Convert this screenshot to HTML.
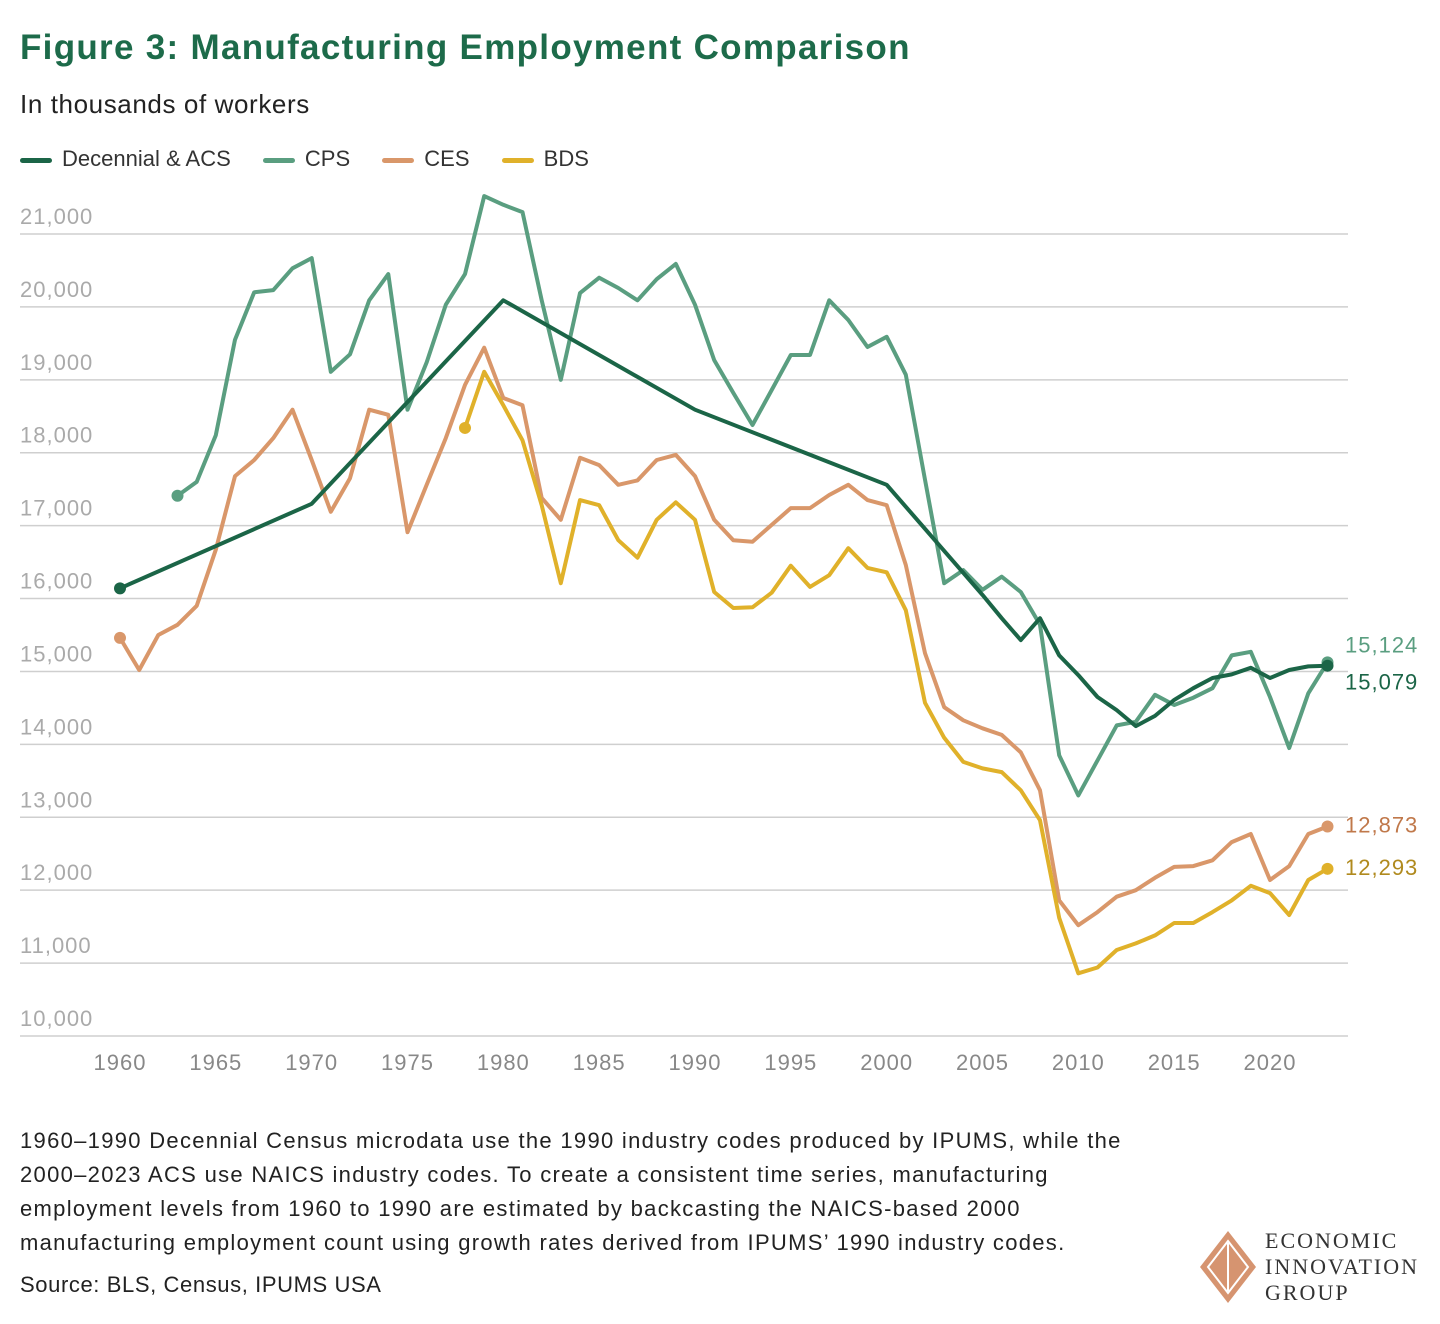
<!DOCTYPE html>
<html><head><meta charset="utf-8"><style>
body{margin:0;width:1440px;height:1324px;background:#fff;font-family:"Liberation Sans",sans-serif;position:relative;overflow:hidden}
.t{position:absolute;white-space:nowrap}
</style></head><body>
<div class="t" style="left:20px;top:28px;font-size:35px;font-weight:bold;color:#1d6b4a;letter-spacing:1.3px">Figure 3: Manufacturing Employment Comparison</div>
<div class="t" style="left:20px;top:89px;font-size:26px;color:#222;letter-spacing:0.6px">In thousands of workers</div>
<div class="t" style="left:20px;top:146px;font-size:22px;color:#333">
<span><span style="display:inline-block;width:32px;height:5px;background:#1b6547;border-radius:3px;vertical-align:middle;margin-right:10px"></span>Decennial &amp; ACS</span>
<span style="margin-left:26px"><span style="display:inline-block;width:32px;height:5px;background:#5a9e80;border-radius:3px;vertical-align:middle;margin-right:10px"></span>CPS</span>
<span style="margin-left:26px"><span style="display:inline-block;width:32px;height:5px;background:#d9976a;border-radius:3px;vertical-align:middle;margin-right:10px"></span>CES</span>
<span style="margin-left:26px"><span style="display:inline-block;width:32px;height:5px;background:#e0b12a;border-radius:3px;vertical-align:middle;margin-right:10px"></span>BDS</span>
</div>
<svg id="chart" width="1440" height="1100" style="position:absolute;left:0;top:0"></svg>
<div class="t" style="left:20px;top:1124px;font-size:22px;line-height:34px;color:#222;letter-spacing:1.3px">1960–1990 Decennial Census microdata use the 1990 industry codes produced by IPUMS, while the<br>2000–2023 ACS use NAICS industry codes. To create a consistent time series, manufacturing<br>employment levels from 1960 to 1990 are estimated by backcasting the NAICS-based 2000<br>manufacturing employment count using growth rates derived from IPUMS’ 1990 industry codes.</div>
<div class="t" style="left:20px;top:1272px;font-size:22px;color:#222;letter-spacing:0.6px">Source: BLS, Census, IPUMS USA</div>
<svg width="60" height="76" style="position:absolute;left:1198px;top:1229px">
<polygon points="30,2 58,38 30,74 2,38" fill="#d69470"/>
<polygon points="30,12 50,38 30,64 10,38" fill="none" stroke="#fff" stroke-width="2"/>
<line x1="30" y1="14" x2="30" y2="62" stroke="#fff" stroke-width="2"/>
</svg>
<div class="t" style="left:1265px;top:1228px;font-family:'Liberation Serif',serif;font-size:22px;line-height:26px;color:#333;letter-spacing:2px">ECONOMIC<br>INNOVATION<br>GROUP</div>
<script>
const yTicks=[10000,11000,12000,13000,14000,15000,16000,17000,18000,19000,20000,21000];
const xTicks=[1960,1965,1970,1975,1980,1985,1990,1995,2000,2005,2010,2015,2020];
const decYears=[1960,1970,1980,1990,2000,2005,2006,2007,2008,2009,2010,2011,2012,2013,2014,2015,2016,2017,2018,2019,2020,2021,2022,2023];
const decVals=[16140,17300,20090,18590,17560,16050,15730,15430,15730,15220,14950,14650,14470,14250,14390,14610,14770,14910,14960,15050,14910,15020,15070,15079];
const cpsStart=1963;
const cpsVals=[17410,17600,18240,19550,20200,20230,20530,20670,19110,19350,20090,20450,18590,19240,20030,20450,21520,21400,21300,20090,19000,20190,20400,20260,20090,20380,20590,20030,19270,18820,18380,18860,19340,19340,20090,19820,19450,19590,19070,17630,16210,16390,16120,16300,16090,15640,13850,13300,13780,14260,14310,14680,14540,14640,14770,15220,15270,14650,13950,14700,15124];
const cesStart=1960;
const cesVals=[15460,15020,15500,15640,15900,16670,17680,17900,18200,18590,17900,17190,17650,18590,18520,16910,17560,18200,18930,19440,18750,18650,17380,17080,17930,17830,17560,17620,17900,17970,17680,17080,16800,16780,17010,17240,17240,17420,17560,17350,17280,16460,15250,14510,14330,14220,14130,13890,13370,11860,11520,11700,11910,12000,12170,12320,12330,12410,12660,12770,12140,12330,12770,12873];
const bdsStart=1978;
const bdsVals=[18340,19110,18650,18170,17280,16210,17350,17280,16800,16560,17080,17320,17080,16090,15870,15880,16080,16450,16160,16320,16690,16420,16360,15840,14570,14090,13760,13670,13620,13370,12960,11620,10860,10940,11180,11270,11380,11550,11550,11700,11860,12060,11960,11660,12140,12293];
const endLabels=["15,124","15,079","12,873","12,293"];

const NS="http://www.w3.org/2000/svg";
const svg=document.getElementById('chart');
const X=yr=>120+(yr-1960)*(1150/60);
const Y=v=>1036-(v-10000)*(802/11000);
function mk(tag,attrs){const e=document.createElementNS(NS,tag);for(const k in attrs)e.setAttribute(k,attrs[k]);svg.appendChild(e);return e;}
yTicks.forEach(v=>{
  const l=mk('line',{x1:20,x2:1348,y1:Y(v),y2:Y(v),stroke:'#cfcfcf','stroke-width':1.5});
  
  
  const t=mk('text',{x:20,y:Y(v)-10,'font-size':22,fill:'#aaa','letter-spacing':1,'font-family':'Liberation Sans, sans-serif'});
  t.textContent=v.toLocaleString('en-US');
  
  
});
xTicks.forEach(yr=>{
  const t=mk('text',{x:X(yr),y:1070,'font-size':22,fill:'#888','letter-spacing':1,'text-anchor':'middle','font-family':'Liberation Sans, sans-serif'});
  t.textContent=yr;
  
  
});
function series(years,vals,color,name){
  const d=vals.map((v,i)=>(i?'L':'M')+X(years[i]).toFixed(1)+','+Y(v).toFixed(1)).join('');
  const p=mk('path',{d:d,fill:'none',stroke:color,'stroke-width':4,'stroke-linejoin':'round','stroke-linecap':'round'});
  
  
  [0,vals.length-1].forEach(i=>{
    const c=mk('circle',{cx:X(years[i]),cy:Y(vals[i]),r:6,fill:color});
    
    
  });
}
const yrs=(s,n)=>Array.from({length:n},(_,i)=>s+i);
series(yrs(cesStart,cesVals.length),cesVals,'#d9976a','ces');
series(yrs(bdsStart,bdsVals.length),bdsVals,'#e0b12a','bds');
series(yrs(cpsStart,cpsVals.length),cpsVals,'#5a9e80','cps');
series(decYears,decVals,'#1b6547','decennial');
const labCols=['#5a9e80','#1b6547','#c0784a','#b08a1e'];
const labY=[Y(cpsVals[cpsVals.length-1])-10,Y(decVals[decVals.length-1])+24,Y(cesVals[cesVals.length-1])+6,Y(bdsVals[bdsVals.length-1])+6];
endLabels.forEach((s,i)=>{
  const t=mk('text',{x:1345,y:labY[i],'font-size':22,fill:labCols[i],'letter-spacing':1,'font-family':'Liberation Sans, sans-serif'});
  t.textContent=s;
  
  
});
</script>
</body></html>
